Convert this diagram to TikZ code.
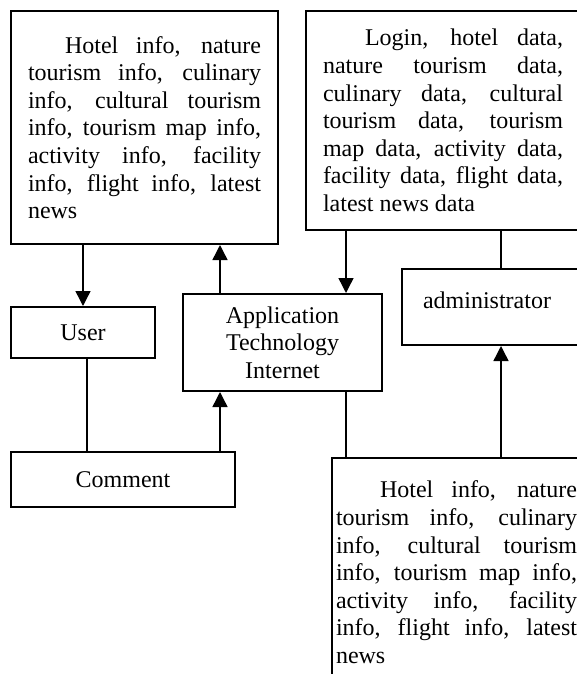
\documentclass[tikz,border=0pt]{standalone}
\usepackage{fontspec}
\setmainfont{Liberation Serif}
\usetikzlibrary{arrows.meta, positioning, calc}
\definecolor{lineblack}{RGB}{0, 0, 0}
\tikzset{
  font=\fontsize{12pt}{13.8pt}\selectfont,
  baseblock/.style={
    rectangle, draw=lineblack, line width=1pt,
    align=center, anchor=north west
  },
  infoblock/.style={baseblock, align=justify, inner xsep=8.5pt, inner ysep=0pt},
  flowline/.style={
    draw=lineblack, -{Triangle[length=7.5pt, width=7.5pt]}, line width=0.7pt
  },
  plainline/.style={draw=lineblack, line width=0.7pt}
}

\begin{document}
\begin{tikzpicture}[x=0.5pt, y=-0.5pt]
  \useasboundingbox (0,0) rectangle (577,674);
  \clip (0,0) rectangle (577,674);

  \node[infoblock, text width=116.5pt, minimum height=116.5pt] (userinfo) at (10,10) {
    \hspace*{18.5pt}Hotel info, nature\linebreak
    tourism info, culinary\linebreak
    info, cultural tourism\linebreak
    info, tourism map info,\linebreak
    activity info, facility\linebreak
    info, flight info, latest\linebreak
    news
  };

  \node[infoblock, text width=120pt, minimum height=109.5pt] (admindata) at (305,10) {
    \hspace*{21pt}Login, hotel data,\linebreak
    nature tourism data,\linebreak
    culinary data, cultural\linebreak
    tourism data, tourism\linebreak
    map data, activity data,\linebreak
    facility data, flight data,\linebreak
    latest news data
  };

  \node[baseblock, minimum width=72pt, minimum height=25.5pt] (user) at (10,306) {User};

  \node[baseblock, minimum width=99.5pt, minimum height=48.5pt] (apptech) at (182,293) {
    Application\\Technology\\Internet
  };

  \node[baseblock, align=left, text width=73.5pt, inner xsep=10.5pt, inner ysep=0pt,
        text height=19.5pt, text depth=18.5pt] (admin) at (401,268) {administrator};

  \node[baseblock, minimum width=112pt, minimum height=27.5pt] (comment) at (10,451) {Comment};

  \node[infoblock, text width=120.5pt, inner xsep=2pt, inner ysep=11.5pt] (admininfo) at (331,457) {
    \hspace*{22pt}Hotel info, nature\linebreak
    tourism info, culinary\linebreak
    info, cultural tourism\linebreak
    info, tourism map info,\linebreak
    activity info, facility\linebreak
    info, flight info, latest\linebreak
    news
  };

  \draw[flowline] (user.north |- userinfo.south) -- (user.north);
  \draw[flowline] ([xshift=19pt]apptech.north west) -- ([xshift=19pt]apptech.north west |- userinfo.south);
  \draw[flowline] ([xshift=-18.5pt]apptech.north east |- admindata.south) -- ([xshift=-18.5pt]apptech.north east);
  \draw[plainline] ([xshift=50pt]admin.north west |- admindata.south) -- ([xshift=50pt]admin.north west);
  \draw[plainline] ([xshift=2pt]user.south) -- ([xshift=2pt]user.south |- comment.north);
  \draw[flowline] ([xshift=19pt]apptech.south west |- comment.north) -- ([xshift=19pt]apptech.south west);
  \draw[plainline] ([xshift=-18.5pt]apptech.south east) -- ([xshift=-18.5pt]apptech.south east |- admininfo.north);
  \draw[flowline] ([xshift=50pt]admin.south west |- admininfo.north) -- ([xshift=50pt]admin.south west);
\end{tikzpicture}
\end{document}
